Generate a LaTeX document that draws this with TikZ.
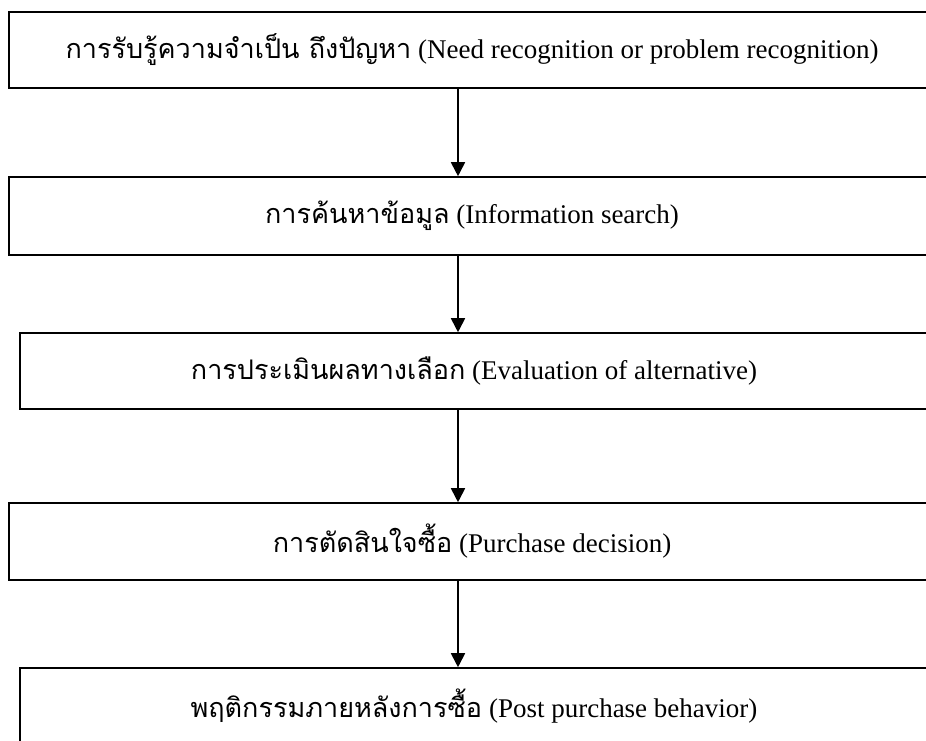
\documentclass[tikz,border=0pt]{standalone}
\usepackage{fontspec}
\setmainfont{Liberation Serif}
\newfontfamily\thaifont[Script=Thai]{Loma}
\usepackage{tikz}
\usetikzlibrary{arrows.meta, calc}

\tikzset{
  stagebox/.style={draw, line width=1.6pt, minimum height=76pt, inner sep=0pt,
                   font=\fontsize{27}{30}\selectfont},
  flowarrow/.style={-{Triangle[length=14pt,width=14pt]}, line width=1.8pt}
}

\begin{document}
\begin{tikzpicture}[x=1pt, y=-1pt]
      \useasboundingbox (0,0) rectangle (926,740);
      \clip (0,0) rectangle (926,740);
      \coordinate (ax) at (458,0);
      % the five stages of the buying process
      \node[stagebox, minimum width=926pt] (s1) at (472,50)
            {{\thaifont การรับรู้ความจำเป็น ถึงปัญหา} (Need recognition or problem recognition)};
      \node[stagebox, minimum width=926pt, minimum height=78pt] (s2) at (472,216)
            {{\thaifont การค้นหาข้อมูล} (Information search)};
      \node[stagebox, minimum width=908pt] (s3) at (474,371)
            {{\thaifont การประเมินผลทางเลือก} (Evaluation of alternative)};
      \node[stagebox, minimum width=926pt, minimum height=77pt] (s4) at (472,541.5)
            {{\thaifont การตัดสินใจซื้อ} (Purchase decision)};
      \node[stagebox, minimum width=908pt, minimum height=77pt] (s5) at (474,706.5)
            {{\thaifont พฤติกรรมภายหลังการซื้อ} (Post purchase behavior)};
      \foreach \a/\b in {s1/s2, s2/s3, s3/s4, s4/s5}
        \draw[flowarrow] (\a.south -| ax) -- (\b.north -| ax);
    \end{tikzpicture}
\end{document}
